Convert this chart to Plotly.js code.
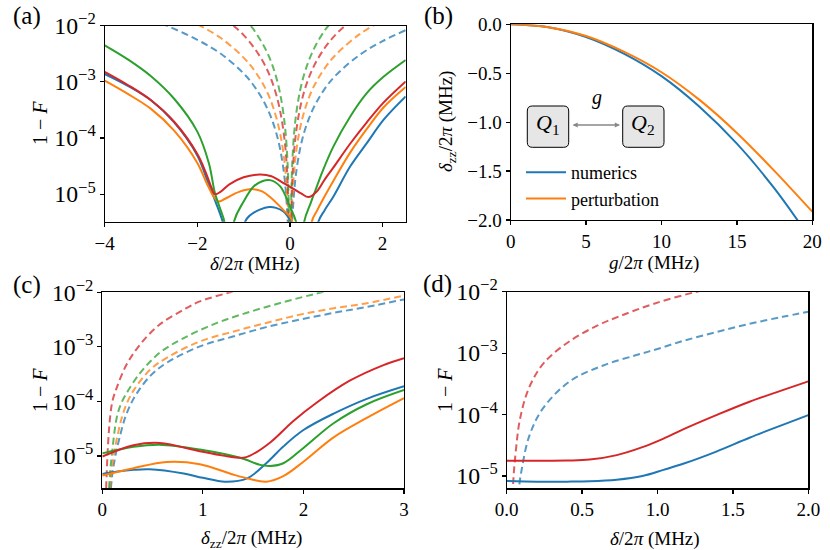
<!DOCTYPE html>
<html><head><meta charset="utf-8">
<script src="https://cdn.plot.ly/plotly-3.0.1.min.js"></script>
<style>html,body{margin:0;padding:0;background:#fff;}#plot{width:830px;height:550px;}</style>
</head><body><div id="plot"></div>
<script>
// ---------- Panel (a): 1-F vs delta/2pi ----------
const aBlueX = [-4,-3.5,-3,-2.5,-2,-1.8,-1.6,-1.45,-1.35,-1.17,-0.97,-0.86,-0.65,-0.45,-0.3,-0.14,0,0.05,0.3,0.6,0.75,0.94,1.3,1.66,2.02,2.5];
const aBlueY = [1.38e-3,8.5e-4,4.7e-4,1.9e-4,4.9e-5,1.9e-5,7.1e-6,3.2e-6,1.5e-6,1e-8,3.2e-6,4.2e-6,5.3e-6,5.9e-6,5.7e-6,4.9e-6,3.5e-6,2.9e-6,1e-8,3e-6,5.2e-6,9.1e-6,3.1e-5,8.1e-5,2.1e-4,5.5e-4];
const aOrangeX = [-4,-3.5,-3,-2.5,-2,-1.8,-1.65,-1.55,-1.4,-1.1,-0.8,-0.6,-0.43,-0.14,0.04,0.25,0.47,0.58,0.72,0.94,1.3,1.66,2.02,2.5];
const aOrangeY = [1.05e-3,6.1e-4,3.3e-4,1.35e-4,3.6e-5,1.58e-5,9.1e-6,7.4e-6,8.3e-6,1.1e-5,1.23e-5,1.12e-5,8.9e-6,5.2e-6,3.5e-6,1e-8,3.2e-6,5e-6,8.3e-6,1.74e-5,5.5e-5,1.45e-4,3.5e-4,8.1e-4];
const aGreenX = [-4,-3.5,-3,-2.5,-2,-1.75,-1.62,-1.5,-1.4,-1.31,-1.22,-1.0,-0.78,-0.6,-0.43,-0.21,0,0.15,0.23,0.3,0.45,0.55,0.7,0.94,1.3,1.66,2.02,2.5];
const aGreenY = [4.47e-3,2.51e-3,1.26e-3,5e-4,1.3e-4,3.55e-5,1.05e-5,5.3e-6,2.8e-6,1e-8,3e-6,7.4e-6,1.38e-5,1.7e-5,1.78e-5,1.38e-5,6e-6,2.8e-6,1e-8,3e-6,7e-6,1.17e-5,2.5e-5,7.1e-5,2.4e-4,6.3e-4,1.23e-3,2.45e-3];
const aRedX = [-4,-3.5,-3,-2.5,-2,-1.8,-1.7,-1.62,-1.5,-1.3,-1.0,-0.65,-0.4,-0.14,0.07,0.25,0.4,0.58,0.75,0.94,1.3,1.66,2.02,2.5];
const aRedY = [1.51e-3,8.8e-4,4.7e-4,1.95e-4,5.2e-5,2.24e-5,1.35e-5,1e-5,1.1e-5,1.51e-5,2e-5,2.24e-5,2.09e-5,1.58e-5,1.26e-5,1.02e-5,8.9e-6,1.12e-5,1.82e-5,3e-5,7.9e-5,1.9e-4,4.27e-4,1.02e-3];
// dashed (a)
const aBlueDX = [-3,-2.66,-2,-1.5,-1,-0.75,-0.5,-0.3,-0.15,-0.05,0,0.05,0.15,0.3,0.5,0.75,1,1.5,2,2.5];
const aBlueDY = [1.27e-2,1e-2,5.6e-3,3.2e-3,1.41e-3,7.9e-4,3.5e-4,1.27e-4,3.2e-5,3.5e-6,1e-8,3.3e-6,3e-5,1.2e-4,3.3e-4,7.5e-4,1.33e-3,3e-3,5.3e-3,8.3e-3];
const aOrangeDX = [-2.2,-1.94,-1.5,-1,-0.75,-0.5,-0.3,-0.15,-0.05,0,0.05,0.15,0.3,0.5,0.75,1,1.5,1.9];
const aOrangeDY = [1.3e-2,1e-2,6.1e-3,2.7e-3,1.52e-3,6.8e-4,2.4e-4,6.1e-5,6.8e-6,1e-8,7.8e-6,7e-5,2.8e-4,7.8e-4,1.74e-3,3.1e-3,7e-3,1.12e-2];
const aRedDX = [-1.4,-1.22,-1,-0.75,-0.5,-0.3,-0.15,-0.05,0,0.05,0.15,0.3,0.5,0.75,1,1.25,1.4];
const aRedDY = [1.33e-2,1e-2,6.8e-3,3.8e-3,1.7e-3,6.1e-4,1.53e-4,1.7e-5,1e-8,1.78e-5,1.6e-4,6.4e-4,1.78e-3,4e-3,7.1e-3,1.1e-2,1.4e-2];
const aGreenDX = [-1,-0.85,-0.75,-0.5,-0.3,-0.15,-0.05,0,0.05,0.15,0.3,0.5,0.75,0.9,1];
const aGreenDY = [1.38e-2,1e-2,7.8e-3,3.45e-3,1.24e-3,3.1e-4,3.45e-5,1e-8,3.6e-5,3.3e-4,1.3e-3,3.6e-3,8.2e-3,1.17e-2,1.45e-2];

// ---------- Panel (b): delta_zz vs g ----------
const bG = [0,2.5,5,7.5,10,12.5,15,17.5,20];
const bNumerics = [0,-0.03,-0.13,-0.3,-0.53,-0.84,-1.22,-1.68,-2.22];
const bPerturbation = [0,-0.03,-0.12,-0.28,-0.49,-0.77,-1.11,-1.5,-1.915];

// ---------- Panel (c): 1-F vs delta_zz ----------
const cBlueX = [0,0.15,0.31,0.47,0.81,1.0,1.22,1.44,1.63,1.8,2.0,2.3,2.63,3.0];
const cBlueY = [4.7e-6,5.2e-6,5.6e-6,5.75e-6,4.8e-6,4e-6,3.4e-6,3.9e-6,7.4e-6,1.5e-5,3e-5,6e-5,1.12e-4,1.9e-4];
const cOrangeX = [0,0.31,0.64,0.97,1.3,1.47,1.63,1.8,2.0,2.3,2.63,3.0];
const cOrangeY = [4.4e-6,6e-6,7.8e-6,7.1e-6,4.6e-6,3.8e-6,3.4e-6,4.3e-6,7.9e-6,2.2e-5,5e-5,1.15e-4];
const cGreenX = [0,0.31,0.57,0.97,1.37,1.57,1.67,1.8,2.0,2.3,2.63,3.0];
const cGreenY = [1.12e-5,1.48e-5,1.62e-5,1.32e-5,9.3e-6,6.9e-6,6.6e-6,7.4e-6,1.41e-5,4e-5,8.9e-5,1.62e-4];
const cRedX = [0,0.31,0.57,0.97,1.2,1.4,1.47,1.67,1.9,2.13,2.46,2.79,3.0];
const cRedY = [9.8e-6,1.58e-5,1.74e-5,1.23e-5,1.02e-5,9.3e-6,1.02e-5,1.78e-5,4.4e-5,9.5e-5,2.4e-4,4.6e-4,6.2e-4];
const cBlueDX = [0.06,0.09,0.13,0.18,0.226,0.28,0.34,0.474,0.64,0.97,1.3,1.63,1.966,2.3,2.63,3.0];
const cBlueDY = [1e-7,3.2e-6,1e-5,2.5e-5,5e-5,8.7e-5,1.38e-4,2.9e-4,5.1e-4,1.02e-3,1.55e-3,2.3e-3,3.16e-3,4.2e-3,5.4e-3,7.4e-3];
const cOrangeDX = [0.05,0.08,0.12,0.16,0.193,0.24,0.31,0.474,0.64,0.97,1.3,1.63,1.966,2.3,2.63,3.0];
const cOrangeDY = [1e-7,3.2e-6,1.2e-5,2.8e-5,5e-5,8.9e-5,1.58e-4,3.8e-4,6.3e-4,1.26e-3,1.9e-3,2.75e-3,3.9e-3,5.1e-3,6.3e-3,8.7e-3];
const cGreenDX = [0.04,0.07,0.1,0.143,0.18,0.24,0.375,0.57,0.81,1.14,1.47,1.8,2.13,2.4];
const cGreenDY = [1e-7,3.2e-6,1.3e-5,5e-5,8.5e-5,1.41e-4,3.3e-4,7.8e-4,1.45e-3,2.75e-3,4.4e-3,6.6e-3,9.5e-3,1.26e-2];
const cRedDX = [0.02,0.04,0.06,0.077,0.1,0.143,0.24,0.375,0.57,0.81,0.97,1.27,1.5];
const cRedDY = [1e-7,3.2e-6,2e-5,5e-5,1e-4,1.78e-4,4.7e-4,1.1e-3,2.57e-3,4.8e-3,6.8e-3,1e-2,1.3e-2];

// ---------- Panel (d): 1-F vs delta/2pi ----------
const dX = [0,0.2,0.4,0.55,0.73,0.9,1.04,1.17,1.39,1.61,1.83,2.0];
const dRed = [1.78e-5,1.78e-5,1.79e-5,1.85e-5,2.19e-5,2.95e-5,4.07e-5,5.75e-5,9.8e-5,1.62e-4,2.5e-4,3.47e-4];
const dBlue = [8.3e-6,8.1e-6,8.1e-6,8.2e-6,8.7e-6,1e-5,1.26e-5,1.58e-5,2.5e-5,4.2e-5,6.8e-5,9.8e-5];
const dRedDX = [0.02,0.04,0.06,0.09,0.15,0.25,0.42,0.6,0.75,0.97,1.26,1.5];
const dRedDY = [1e-8,5.6e-6,2.5e-5,8.9e-5,2.8e-4,7.1e-4,1.58e-3,2.8e-3,4e-3,6.3e-3,1e-2,1.32e-2];
const dBlueDX = [0.05,0.08,0.1,0.15,0.24,0.42,0.64,0.86,1.0,1.17,1.39,1.61,1.83,2.0];
const dBlueDY = [1e-8,5.6e-6,1.3e-5,4.5e-5,1.26e-4,3.5e-4,6.3e-4,9.3e-4,1.17e-3,1.58e-3,2.2e-3,3e-3,3.9e-3,4.7e-3];

const C = {blue:'#1f77b4', orange:'#ff7f0e', green:'#2ca02c', red:'#d62728'};
const FONT = 'Liberation Serif';

function solid(x, y, col, xa, ya) {
  return {x:x, y:y, xaxis:xa, yaxis:ya, mode:'lines', showlegend:false,
    line:{color:col, width:2, shape:'spline', smoothing:1}, hoverinfo:'skip'};
}
function dashed(x, y, col, xa, ya) {
  return {x:x, y:y, xaxis:xa, yaxis:ya, mode:'lines', showlegend:false, opacity:0.75,
    line:{color:col, width:2, dash:'7px,4px', shape:'spline', smoothing:1}, hoverinfo:'skip'};
}

const traces = [
  dashed(aBlueDX, aBlueDY, C.blue, 'x', 'y'),
  dashed(aOrangeDX, aOrangeDY, C.orange, 'x', 'y'),
  dashed(aRedDX, aRedDY, C.red, 'x', 'y'),
  dashed(aGreenDX, aGreenDY, C.green, 'x', 'y'),
  solid(aBlueX, aBlueY, C.blue, 'x', 'y'),
  solid(aOrangeX, aOrangeY, C.orange, 'x', 'y'),
  solid(aGreenX, aGreenY, C.green, 'x', 'y'),
  solid(aRedX, aRedY, C.red, 'x', 'y'),
  {x:bG, y:bNumerics, xaxis:'x2', yaxis:'y2', mode:'lines', name:'numerics', line:{color:C.blue, width:2, shape:'spline'}},
  {x:bG, y:bPerturbation, xaxis:'x2', yaxis:'y2', mode:'lines', name:'perturbation', line:{color:C.orange, width:2, shape:'spline'}},
  dashed(cBlueDX, cBlueDY, C.blue, 'x3', 'y3'),
  dashed(cOrangeDX, cOrangeDY, C.orange, 'x3', 'y3'),
  dashed(cGreenDX, cGreenDY, C.green, 'x3', 'y3'),
  dashed(cRedDX, cRedDY, C.red, 'x3', 'y3'),
  solid(cBlueX, cBlueY, C.blue, 'x3', 'y3'),
  solid(cOrangeX, cOrangeY, C.orange, 'x3', 'y3'),
  solid(cGreenX, cGreenY, C.green, 'x3', 'y3'),
  solid(cRedX, cRedY, C.red, 'x3', 'y3'),
  dashed(dRedDX, dRedDY, C.red, 'x4', 'y4'),
  dashed(dBlueDX, dBlueDY, C.blue, 'x4', 'y4'),
  solid(dX, dRed, C.red, 'x4', 'y4'),
  solid(dX, dBlue, C.blue, 'x4', 'y4')
];

const W = 830, H = 550;
const px = v => v / W, py = v => 1 - v / H;
function ax(extra) {
  return Object.assign({showline:true, linecolor:'black', linewidth:1.2, mirror:true,
    ticks:'outside', ticklen:4, tickwidth:1.2, tickcolor:'black', showgrid:false, zeroline:false,
    tickfont:{family:FONT, size:19, color:'black'}}, extra);
}

function lab(t, x, y, size, angle) {
  return {text:t, x:px(x), y:py(y), xref:'paper', yref:'paper', xanchor:'center', yanchor:'middle',
    textangle:angle || 0, showarrow:false, font:{family:FONT, size:size, color:'black'}};
}

const layout = {
  width:W, height:H, margin:{l:0, r:0, t:0, b:0}, paper_bgcolor:'white', plot_bgcolor:'white',
  font:{family:FONT, color:'black'},
  xaxis: ax({domain:[px(104.7), px(405.7)], range:[-4,2.5], tickvals:[-4,-2,0,2], anchor:'y'}),
  yaxis: ax({domain:[py(221.7), py(25.7)], type:'log', range:[-5.49,-2], dtick:1, exponentformat:'power', anchor:'x'}),
  xaxis2: ax({domain:[px(510.7), px(812.3)], range:[0,20], tickvals:[0,5,10,15,20], anchor:'y2'}),
  yaxis2: ax({domain:[py(220), py(24.3)], range:[-2,0], tickvals:[0,-0.5,-1,-1.5,-2], tickformat:'.1f', anchor:'x2'}),
  xaxis3: ax({domain:[px(102.3), px(404)], range:[0,3], tickvals:[0,1,2,3], anchor:'y3'}),
  yaxis3: ax({domain:[py(488.3), py(292.3)], type:'log', range:[-5.59,-2], dtick:1, exponentformat:'power', anchor:'x3'}),
  xaxis4: ax({domain:[px(506.7), px(808.3)], range:[0,2], tickvals:[0,0.5,1,1.5,2], tickformat:'.1f', anchor:'y4'}),
  yaxis4: ax({domain:[py(488.3), py(291.7)], type:'log', range:[-5.2,-2], dtick:1, exponentformat:'power', anchor:'x4'}),
  showlegend:true,
  legend:{x:px(521), y:py(154), xanchor:'left', yanchor:'top', bgcolor:'rgba(0,0,0,0)',
    font:{family:FONT, size:18, color:'black'}, tracegroupgap:0, itemwidth:40},
  annotations:[
    lab('(a)', 27, 16, 25), lab('(b)', 438, 16, 25), lab('(c)', 27, 285, 25), lab('(d)', 437, 284, 25),
    // axis titles
    lab('<i>δ</i>/2<i>π</i> (MHz)', 255, 264, 19),
    lab('1 − <i>F</i>', 40, 123, 20, -90),
    lab('<i>g</i>/2<i>π</i> (MHz)', 654, 263, 19),
    lab('<i>δ</i><sub>zz</sub>/2<i>π</i> (MHz)', 447, 122, 19, -90),
    lab('<i>δ</i><sub>zz</sub>/2<i>π</i> (MHz)', 251, 539, 19),
    lab('1 − <i>F</i>', 40, 390, 20, -90),
    lab('<i>δ</i>/2<i>π</i> (MHz)', 655, 539, 19),
    lab('1 − <i>F</i>', 445, 390, 20, -90),
    // inset
    lab('<i>Q</i><sub>1</sub>', 548, 124, 22),
    lab('<i>Q</i><sub>2</sub>', 643.3, 124, 22),
    lab('<i>g</i>', 596.5, 97, 20),
    {text:'', x:px(620), y:py(125), xref:'paper', yref:'paper', ax:px(571), ay:py(125), axref:'paper', ayref:'paper',
      showarrow:true, arrowhead:2, arrowside:'end+start', arrowsize:0.8, arrowwidth:1.3, arrowcolor:'#888888'}
  ],
  shapes:[]
};

function roundRect(x0, y0, x1, y1, r) {
  const X = v => px(v).toFixed(5), Y = v => py(v).toFixed(5);
  return 'M' + X(x0 + r) + ',' + Y(y0) + ' L' + X(x1 - r) + ',' + Y(y0) +
    ' Q' + X(x1) + ',' + Y(y0) + ' ' + X(x1) + ',' + Y(y0 + r) +
    ' L' + X(x1) + ',' + Y(y1 - r) + ' Q' + X(x1) + ',' + Y(y1) + ' ' + X(x1 - r) + ',' + Y(y1) +
    ' L' + X(x0 + r) + ',' + Y(y1) + ' Q' + X(x0) + ',' + Y(y1) + ' ' + X(x0) + ',' + Y(y1 - r) +
    ' L' + X(x0) + ',' + Y(y0 + r) + ' Q' + X(x0) + ',' + Y(y0) + ' ' + X(x0 + r) + ',' + Y(y0) + ' Z';
}
layout.shapes.push({type:'path', xref:'paper', yref:'paper', path:roundRect(527.3,106,568.7,147.3,5),
  fillcolor:'#e6e6e6', line:{color:'black', width:1}, layer:'below'});
layout.shapes.push({type:'path', xref:'paper', yref:'paper', path:roundRect(622.7,106,664,147.3,5),
  fillcolor:'#e6e6e6', line:{color:'black', width:1}, layer:'below'});

Plotly.newPlot('plot', traces, layout, {displayModeBar:false, staticPlot:true});
</script></body></html>
